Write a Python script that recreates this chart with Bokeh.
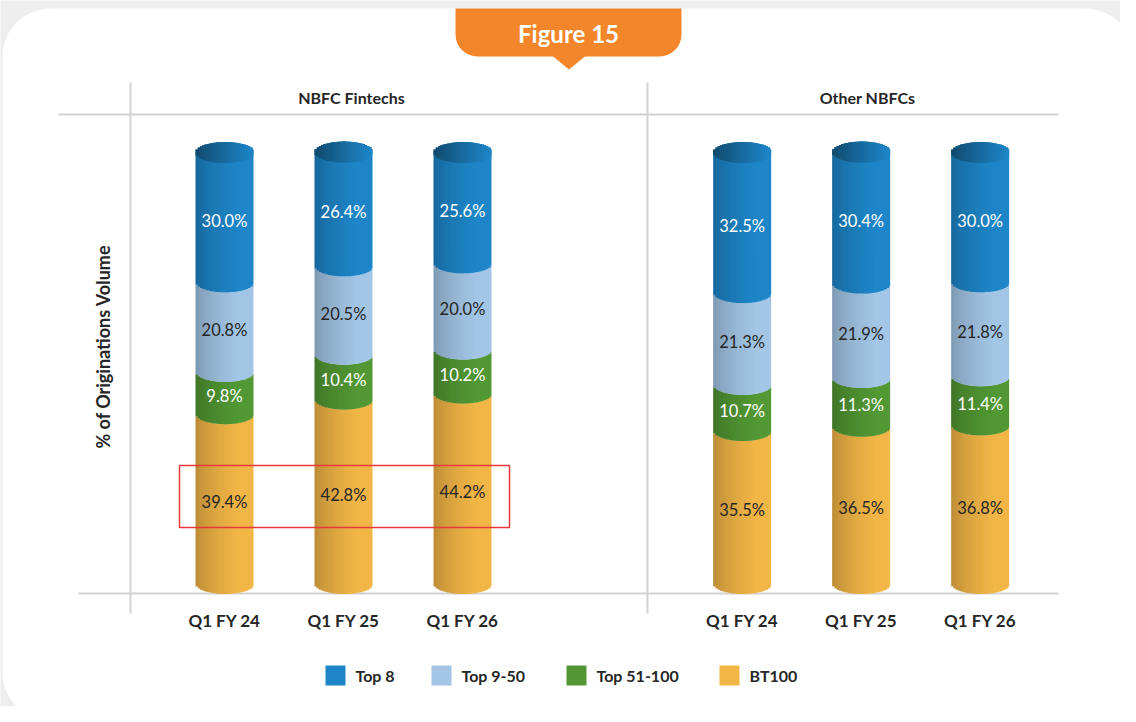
import math
from bokeh.plotting import figure
from bokeh.models import ColumnDataSource, BoxAnnotation, Range1d
from bokeh.embed import file_html
from bokeh.resources import INLINE
from bokeh.core.properties import value

# ---------------- data ----------------
panels = ["NBFC Fintechs", "Other NBFCs"]
quarters = ["Q1 FY 24", "Q1 FY 25", "Q1 FY 26"]
series = ["Top 8", "Top 9-50", "Top 51-100", "BT100"]          # legend order
series_colors = ["#1e86c8", "#a3c6e6", "#529834", "#f2b647"]
series_text = ["white", "#262626", "white", "#262626"]

fintech_top8 = [30.0, 26.4, 25.6]
fintech_top9_50 = [20.8, 20.5, 20.0]
fintech_top51_100 = [9.8, 10.4, 10.2]
fintech_bt100 = [39.4, 42.8, 44.2]

other_top8 = [32.5, 30.4, 30.0]
other_top9_50 = [21.3, 21.9, 21.8]
other_top51_100 = [10.7, 11.3, 11.4]
other_bt100 = [35.5, 36.5, 36.8]

panel_values = [
    [fintech_top8, fintech_top9_50, fintech_top51_100, fintech_bt100],
    [other_top8, other_top9_50, other_top51_100, other_bt100],
]

y_title = "% of Originations Volume"
fig_title = "Figure 15"

# ---------------- geometry helpers ----------------
W, H = 1120, 706
UNIT = 119.0          # px per category step
PPP = 4.31            # px per percent
BASE_PY = 583.0       # canvas y of 0%
ZERO_PX = 224.0       # canvas x of first category


def X(px):
    return (px - ZERO_PX) / UNIT


def Y(py):
    return (BASE_PY - py) / PPP


panel_offset = [0.0, 4.35]
HALF_W = 29.0 / UNIT
ELL_H = 10.5 / PPP
N_STRIPS = 26
LABEL_DROP = 3.5 / PPP

p = figure(width=W, height=H,
           x_range=Range1d(X(0), X(W)), y_range=Range1d(Y(H), Y(0)),
           output_backend="svg", toolbar_location=None,
           x_axis_location=None, y_axis_location=None,
           min_border=0, outline_line_color=None,
           background_fill_color="#eeeeee", border_fill_color="#eeeeee")
p.grid.visible = False

# card
p.add_layout(BoxAnnotation(left=X(4), right=X(1136), top=Y(10), bottom=Y(723),
                           fill_color="#e0e0e0", fill_alpha=1, line_color=None,
                           border_radius=50, level="underlay"))
p.add_layout(BoxAnnotation(left=X(2), right=X(1133), top=Y(8), bottom=Y(720),
                           fill_color="white", fill_alpha=1, line_color=None,
                           border_radius=48, level="underlay"))

# tab
tab_color = "#f3862a"
p.add_layout(BoxAnnotation(left=X(455), right=X(681), top=Y(8), bottom=Y(56),
                           fill_color=tab_color, fill_alpha=1, line_color=None,
                           border_radius=(0, 0, 22, 22), level="underlay"))
p.patch([X(552), X(585), X(568.5)], [Y(55.5), Y(55.5), Y(69)],
        fill_color=tab_color, line_color=None)
p.text([X(568)], [Y(33)], text=[fig_title], text_color="white",
       text_font=value("Lato"), text_font_style="bold", text_font_size="24px",
       text_align="center", text_baseline="middle")

# frame lines
gl = "#d2d2d2"
p.segment(x0=[X(58), X(78), X(130), X(647)], y0=[Y(114), Y(593), Y(82), Y(82)],
          x1=[X(1058), X(1058), X(130), X(647)], y1=[Y(114), Y(593), Y(613), Y(613)],
          line_color=gl, line_width=2)

# ---------------- cylinders ----------------


def shade(hexc, f):
    r, g, b = int(hexc[1:3], 16), int(hexc[3:5], 16), int(hexc[5:7], 16)
    return "#%02x%02x%02x" % (int(r * f), int(g * f), int(b * f))


strip_w = 2 * HALF_W / N_STRIPS
sx, sw, sb, st, sc = [], [], [], [], []
lx, ly, lt, lc = [], [], [], []


def add_strip(xc, k, bottom, top, color):
    left = xc - HALF_W + k * strip_w
    w = strip_w * (1.6 if k < N_STRIPS - 1 else 1.0)
    sx.append(left + w / 2)
    sw.append(w)
    sb.append(bottom)
    st.append(top)
    sc.append(color)


for pi_, vals in enumerate(panel_values):
    for q in range(len(quarters)):
        xc = panel_offset[pi_] + q
        cum = 0.0
        order = [3, 2, 1, 0]  # bottom to top
        for si_idx, si in enumerate(order):
            v = vals[si][q]
            b, t = cum, cum + v
            cum = t
            is_top = si_idx == len(order) - 1
            for k in range(N_STRIPS):
                u = -1 + (2 * k + 1) / N_STRIPS
                tt = (u + 1) / 2
                e = ELL_H * math.sqrt(max(0.0, 1 - u * u))
                f = 0.76 + 0.24 * min(1.0, tt / 0.72) ** 0.65
                add_strip(xc, k, b - e, (t + e) if is_top else (t - e),
                          shade(series_colors[si], f))
            if is_top:
                for k in range(N_STRIPS):
                    u = -1 + (2 * k + 1) / N_STRIPS
                    tt = (u + 1) / 2
                    e = ELL_H * math.sqrt(max(0.0, 1 - u * u))
                    f = 0.52 + 0.48 * tt ** 0.8
                    add_strip(xc, k, t - e, t + e, shade(series_colors[si], f))
            lx.append(xc)
            ly.append((b + t) / 2 - LABEL_DROP)
            lt.append("%.1f%%" % v)
            lc.append(series_text[si])

src = ColumnDataSource(dict(x=sx, w=sw, bottom=sb, top=st, color=sc))
p.vbar(x="x", bottom="bottom", top="top", width="w", source=src,
       fill_color="color", line_color=None)

lab = ColumnDataSource(dict(x=lx, y=ly, text=lt, color=lc))
p.text(x="x", y="y", text="text", source=lab, text_color="color",
       text_font=value("Lato"), text_font_size="16.5px",
       text_align="center", text_baseline="middle")

# category labels
cx, ct = [], []
for pi_ in range(len(panels)):
    for q, name in enumerate(quarters):
        cx.append(panel_offset[pi_] + q)
        ct.append(name)
p.text(x=cx, y=[Y(620)] * len(cx), text=ct, text_color="#262626",
       text_font=value("Lato"), text_font_style="bold", text_font_size="17px",
       text_align="center", text_baseline="middle")

# panel titles
p.text(x=[X(351), X(867)], y=[Y(97), Y(97)], text=panels, text_color="#262626",
       text_font=value("Lato"), text_font_style="bold", text_font_size="16px",
       text_align="center", text_baseline="middle")

# y title
p.text(x=[X(102)], y=[Y(346)], text=[y_title], angle=math.pi / 2,
       text_color="#262626", text_font=value("Lato"), text_font_style="bold",
       text_font_size="18px", text_align="center", text_baseline="middle")

# highlight box
p.add_layout(BoxAnnotation(left=X(179), right=X(509), top=Y(465), bottom=Y(527),
                           fill_alpha=0, line_color="#e5393c", line_alpha=1,
                           line_width=1.5))

# legend
leg_sq_px = [335, 441, 576, 729]
leg_x = [X(v) for v in leg_sq_px]
p.rect(x=leg_x, y=[Y(675)] * 4, width=20, height=20, width_units="screen",
       height_units="screen", fill_color=series_colors, line_color=None)
p.text(x=[X(v + 20) for v in leg_sq_px], y=[Y(675)] * 4, text=series,
       text_color="#262626", text_font=value("Lato"), text_font_style="bold",
       text_font_size="16px", text_align="left", text_baseline="middle")

open("out.html", "w").write(file_html(p, INLINE))
